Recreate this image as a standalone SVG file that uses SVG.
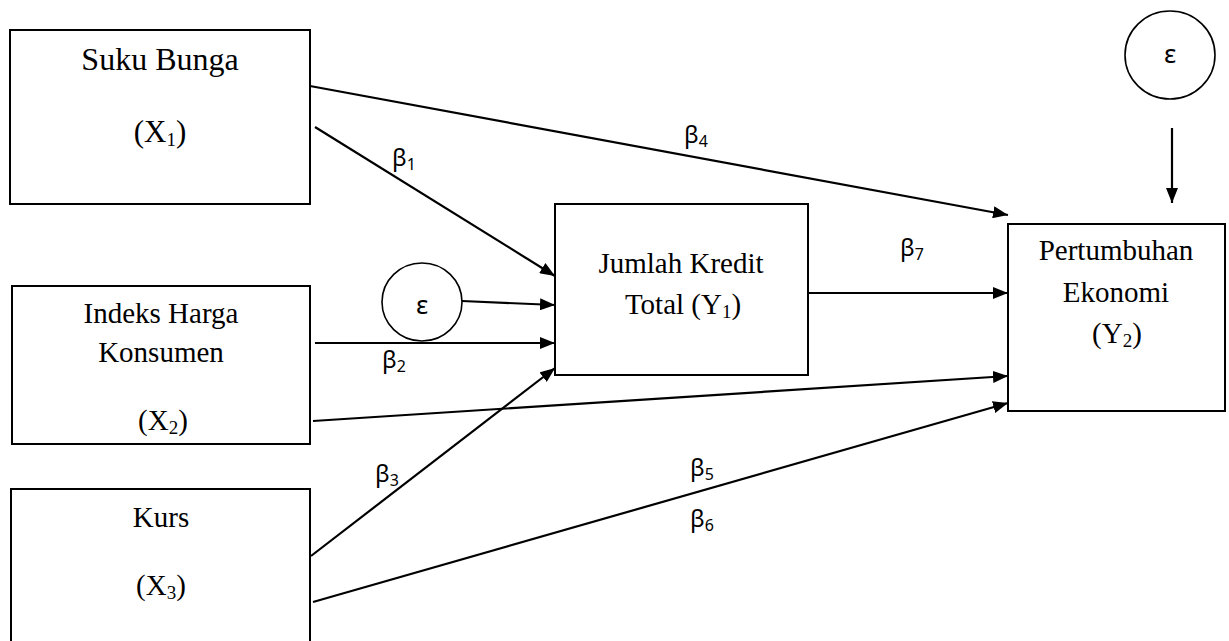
<svg xmlns="http://www.w3.org/2000/svg" width="1229" height="641" viewBox="0 0 1229 641">
<style>
.box{fill:#fff;stroke:#000;stroke-width:2}
.circ{fill:#fff;stroke:#000;stroke-width:1.6}
.t{font-family:"Liberation Serif","Times New Roman",serif;font-size:29px;fill:#000;text-anchor:middle}
.big{font-size:32px}
.sub{font-size:19px}
.g{font-family:"Noto Sans","Liberation Sans",sans-serif;font-size:24px;fill:#000}
.gs{font-size:16px}
.e{font-family:"Noto Sans","Liberation Sans",sans-serif;font-size:26px;fill:#000;text-anchor:middle}
.c{stroke:#000;stroke-width:2.2;fill:none;marker-end:url(#ah)}
</style>
<defs>
<marker id="ah" markerUnits="userSpaceOnUse" markerWidth="16" markerHeight="12" refX="15" refY="6" orient="auto">
<path d="M0,0 L15,6 L0,12 z" fill="#000"/>
</marker>
</defs>
<rect width="1229" height="641" fill="#fff"/>
<g id="connectors">
<line class="c" x1="315" y1="127" x2="555" y2="276"/>
<line class="c" x1="310" y1="86" x2="1008" y2="215"/>
<line class="c" x1="462" y1="301" x2="555" y2="305"/>
<line class="c" x1="315" y1="343" x2="555" y2="343"/>
<line class="c" x1="311" y1="556" x2="555" y2="368"/>
<line class="c" x1="808" y1="293" x2="1008" y2="293"/>
<line class="c" x1="313" y1="421" x2="1008" y2="376"/>
<line class="c" x1="313" y1="602" x2="1008" y2="403"/>
<line class="c" x1="1172" y1="128" x2="1172" y2="203"/>
<text class="g" x="392" y="166">β<tspan class="gs" dy="4">1</tspan></text>
<text class="g" x="684" y="143">β<tspan class="gs" dy="4">4</tspan></text>
<text class="g" x="382" y="368">β<tspan class="gs" dy="4">2</tspan></text>
<text class="g" x="375" y="482">β<tspan class="gs" dy="4">3</tspan></text>
<text class="g" x="690" y="476">β<tspan class="gs" dy="4">5</tspan></text>
<text class="g" x="690" y="527">β<tspan class="gs" dy="4">6</tspan></text>
<text class="g" x="900" y="256">β<tspan class="gs" dy="4">7</tspan></text>
</g>
<g id="x1">
<rect class="box" x="10" y="30" width="300" height="174"/>
<text class="t big" x="160" y="70">Suku Bunga</text>
<text class="t" x="160" y="142" style="font-size:31px">(X<tspan class="sub" dy="4">1</tspan><tspan dy="-4">)</tspan></text>
</g>
<g id="x2">
<rect class="box" x="12" y="286" width="298" height="158"/>
<text class="t" x="161" y="323">Indeks Harga</text>
<text class="t" x="161" y="362">Konsumen</text>
<text class="t" x="163" y="430">(X<tspan class="sub" dy="4">2</tspan><tspan dy="-4">)</tspan></text>
</g>
<g id="x3">
<rect class="box" x="11" y="489" width="299" height="170"/>
<text class="t" x="161" y="527">Kurs</text>
<text class="t" x="161" y="595">(X<tspan class="sub" dy="4">3</tspan><tspan dy="-4">)</tspan></text>
</g>
<g id="e1">
<ellipse class="circ" cx="422" cy="302" rx="40" ry="39"/>
<text class="e" x="422" y="314">ε</text>
</g>
<g id="y1">
<rect class="box" x="555" y="204" width="253" height="171"/>
<text class="t" x="681" y="273">Jumlah Kredit</text>
<text class="t" x="683" y="314">Total (Y<tspan class="sub" dy="4">1</tspan><tspan dy="-4">)</tspan></text>
</g>
<g id="e2">
<ellipse class="circ" cx="1170" cy="55" rx="45" ry="44"/>
<text class="e" x="1170" y="63">ε</text>
</g>
<g id="y2">
<rect class="box" x="1008" y="224" width="217" height="187"/>
<text class="t" x="1116" y="260">Pertumbuhan</text>
<text class="t" x="1116" y="302">Ekonomi</text>
<text class="t" x="1117" y="343">(Y<tspan class="sub" dy="4">2</tspan><tspan dy="-4">)</tspan></text>
</g>
</svg>
